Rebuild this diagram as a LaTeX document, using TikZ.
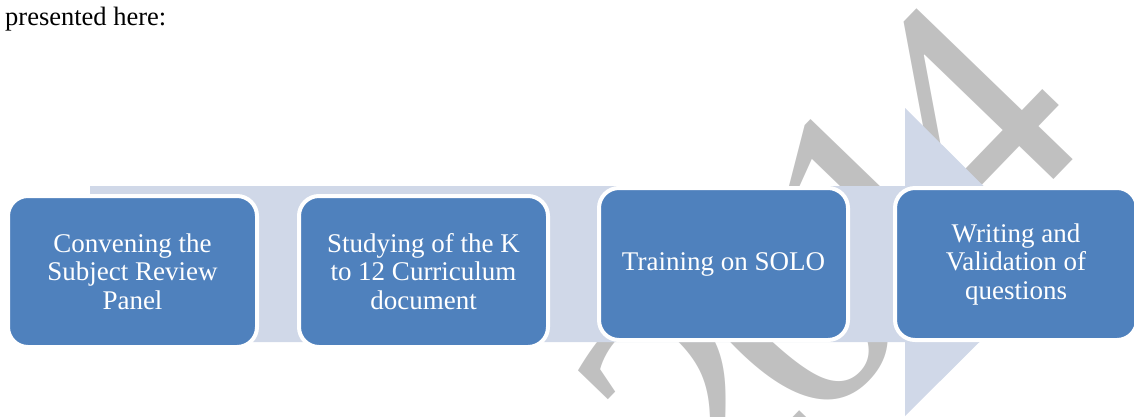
\documentclass[tikz,border=0pt]{standalone}
\usepackage{fontspec}
\setmainfont{Liberation Serif}
\definecolor{boxblue}{HTML}{4F81BD}
\definecolor{arrowgrey}{HTML}{D0D8E8}
\definecolor{wmgrey}{HTML}{C0C0C0}
\begin{document}
\begin{tikzpicture}[x=1pt,y=-1pt,
  stepbox/.style={draw=white, line width=4pt, fill=boxblue, rounded corners=20pt,
    text=white, align=center, inner sep=0pt,
    font=\fontsize{27}{28.5}\selectfont},
  wmark/.style={text=wmgrey, rotate=46, inner sep=0pt, font=\fontsize{330}{330}\selectfont},
  lead/.style={anchor=base west, inner sep=0pt, font=\fontsize{26.5}{30}\selectfont}]
\useasboundingbox (0,0) rectangle (1134,416);
\clip (0,0) rectangle (1134,416);
\node[lead] (intro) at (5,25) {presented here:};
\node[wmark] (wm2) at (694,398) {2};
\node[wmark] (wm0) at (790,303) {0};
\node[wmark] (wm1) at (876,208) {1};
\node[wmark] (wm4) at (962,119) {4};
\fill[arrowgrey] (90,186) -- (905,186) -- (905,108) -- (1060,262) -- (905,416) -- (905,342) -- (90,342) -- cycle;
\node[stepbox, minimum width=249pt, minimum height=151pt] (b1) at (132.5,271.5) {Convening the\\Subject Review\\Panel};
\node[stepbox, minimum width=249pt, minimum height=151pt] (b2) at (423.5,271.5) {Studying of the K\\to 12 Curriculum\\document};
\node[stepbox, minimum width=249pt, minimum height=152pt] (b3) at (723.5,264) {Training on SOLO};
\node[stepbox, minimum width=242pt, minimum height=152pt] (b4) at (1016,264) {Writing and\\Validation of\\questions};
\end{tikzpicture}
\end{document}
